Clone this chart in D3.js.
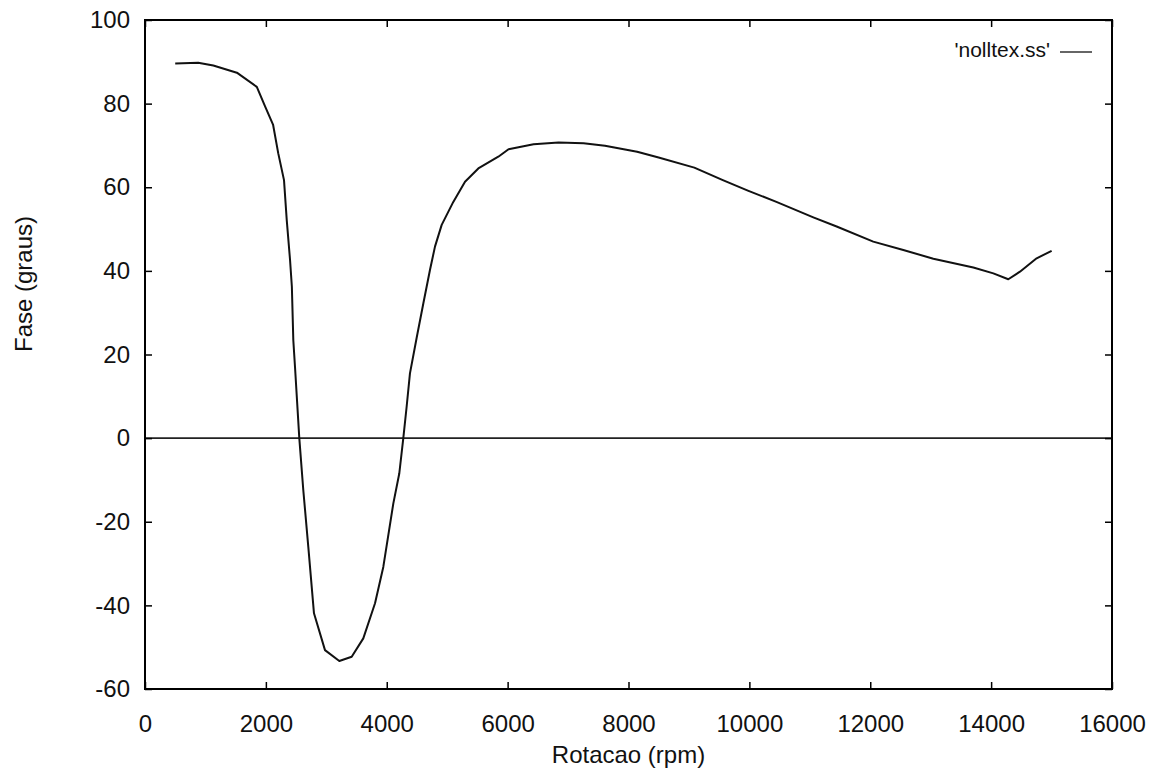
<!DOCTYPE html>
<html>
<head>
<meta charset="utf-8">
<script src="https://cdn.jsdelivr.net/npm/d3@7"></script>
<style>
  body { margin: 0; background: #fff; }
  svg { font-family: "Liberation Sans", Arial, sans-serif; }
</style>
</head>
<body>
<svg width="1160" height="774"></svg>
<script>
var width = 1160;
var height = 774;
var margin = {left: 145, top: 20, right: 48, bottom: 85};

// data: rotation (rpm) and phase (degrees)
var rpm = [500, 880, 1130, 1520, 1850, 1985, 2120, 2205, 2300, 2345, 2400, 2430, 2454, 2482,
  2553, 2619, 2702, 2796, 2978, 3215, 3420, 3612, 3806, 3943, 4109, 4208, 4274, 4329, 4384,
  4495, 4605, 4715, 4798, 4909, 5101, 5295, 5515, 5846, 6015, 6429, 6843, 7257, 7611, 8143,
  8498, 9089, 9561, 9975, 10447, 11058, 11444, 12050, 12547, 13044, 13706, 14037, 14284,
  14477, 14753, 15001];
var fase = [89.6, 89.8, 89.1, 87.4, 84.0, 79.4, 74.9, 68.1, 61.7, 52.2, 42.6, 36.2, 23.4, 17.0,
  0, -12.4, -26.0, -41.9, -50.7, -53.3, -52.3, -47.9, -39.5, -30.8, -15.6, -8.4, 0, 7.5, 15.5,
  24.0, 32.2, 40.2, 45.8, 51.0, 56.5, 61.3, 64.5, 67.3, 69.1, 70.3, 70.7, 70.5, 69.9, 68.5,
  67.1, 64.7, 61.7, 59.2, 56.5, 52.8, 50.6, 47.0, 45.0, 42.9, 40.8, 39.4, 38.0,
  39.8, 43.0, 44.8];

var xTicks = [0, 2000, 4000, 6000, 8000, 10000, 12000, 14000, 16000];
var yTicks = [-60, -40, -20, 0, 20, 40, 60, 80, 100];
var seriesName = "'nolltex.ss'";

var points = rpm.map(function (r, i) { return {x: r, y: fase[i]}; });

//Scales.
var xScale = d3.scaleLinear().domain([0, 16000]).range([margin.left, width - margin.right]);
var yScale = d3.scaleLinear().domain([-60, 100]).range([height - margin.bottom, margin.top]);

var svg = d3.select('svg');
var x0 = margin.left, x1 = width - margin.right;
var y0 = margin.top, y1 = height - margin.bottom;

// plain labels, ascii minus and no thousands comma
function plain(d) { return String(d); }

// zero line
svg.append("line")
  .attr("x1", x0).attr("x2", x1)
  .attr("y1", yScale(0)).attr("y2", yScale(0))
  .attr("stroke", "#222")
  .attr("stroke-width", 1.6);

// the curve
var line = d3.line()
  .x(function (d) { return xScale(d.x); })
  .y(function (d) { return yScale(d.y); });

svg.append("path")
  .datum(points)
  .attr("d", line)
  .attr("fill", "none")
  .attr("stroke", "#111")
  .attr("stroke-width", 2)
  .attr("stroke-linejoin", "round");

//The axes, ticks pointing in like gnuplot.
var axisBottom = d3.axisBottom(xScale).tickValues(xTicks).tickFormat(plain).tickSize(-7).tickPadding(26);
var axisLeft = d3.axisLeft(yScale).tickValues(yTicks).tickFormat(plain).tickSize(-7).tickPadding(15);
var axisTop = d3.axisTop(xScale).tickValues(xTicks).tickSize(-7).tickFormat("");
var axisRight = d3.axisRight(yScale).tickValues(yTicks).tickSize(-7).tickFormat("");

function styleAxis(g) {
  g.select(".domain").remove();
  g.selectAll(".tick line").attr("stroke", "#000").attr("stroke-width", 1.5);
  g.selectAll(".tick text").attr("fill", "#111").style("font-size", "24px");
}

svg.append('g')
  .attr("transform", "translate(0," + y1 + ")")
  .call(axisBottom).call(styleAxis);
svg.append('g')
  .attr("transform", "translate(" + x0 + ",0)")
  .call(axisLeft).call(styleAxis);
svg.append('g')
  .attr("transform", "translate(0," + y0 + ")")
  .call(axisTop).call(styleAxis);
svg.append('g')
  .attr("transform", "translate(" + x1 + ",0)")
  .call(axisRight).call(styleAxis);

// frame
svg.append("rect")
  .attr("x", x0).attr("y", y0)
  .attr("width", x1 - x0).attr("height", y1 - y0)
  .attr("fill", "none")
  .attr("stroke", "#000")
  .attr("stroke-width", 2);

// legend
svg.append("text")
  .attr("x", 1050).attr("y", 57)
  .style("text-anchor", "end")
  .style("font-size", "21px")
  .attr("fill", "#111")
  .text(seriesName);
svg.append("line")
  .attr("x1", 1060).attr("x2", 1092)
  .attr("y1", 52).attr("y2", 52)
  .attr("stroke", "#333")
  .attr("stroke-width", 1.5);

// text label for the y axis
svg.append("text")
  .attr("transform", "rotate(-90)")
  .attr("x", -352)
  .attr("y", 32)
  .style("text-anchor", "start")
  .style("font-size", "24px")
  .attr("fill", "#111")
  .text("Fase (graus)");

// text label for the x axis
svg.append("text")
  .attr("x", (x0 + x1) / 2)
  .attr("y", 763)
  .style("text-anchor", "middle")
  .style("font-size", "24px")
  .attr("fill", "#111")
  .text("Rotacao (rpm)");
</script>
</body>
</html>
